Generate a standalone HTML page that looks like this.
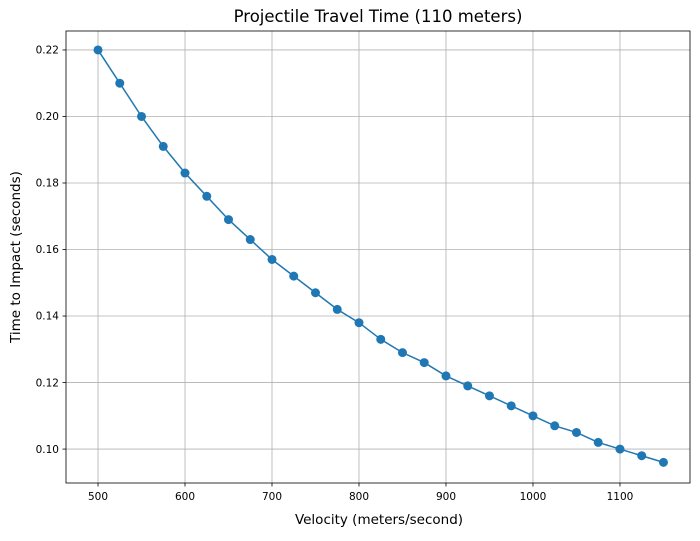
<!DOCTYPE html>
<html><head><meta charset="utf-8"><style>
body{margin:0;background:#fff;font-family:"Liberation Sans","DejaVu Sans",sans-serif;}
svg text{font-family:"DejaVu Sans","Liberation Sans",sans-serif;fill:#000;}
</style></head><body>
<svg id="chart" width="700" height="536" xmlns="http://www.w3.org/2000/svg">
<rect width="700" height="536" fill="#fff"/>
<g id="grid"></g>
<g id="axes"></g>
<g id="series"></g>
<text x="378" y="22" text-anchor="middle" font-size="16.5">Projectile Travel Time (110 meters)</text>
<text x="379" y="524" text-anchor="middle" font-size="13.5">Velocity (meters/second)</text>
<text transform="translate(20,257) rotate(-90)" text-anchor="middle" font-size="13.5">Time to Impact (seconds)</text>
</svg>
<script>
const velocities=[500,525,550,575,600,625,650,675,700,725,750,775,800,825,850,875,900,925,950,975,1000,1025,1050,1075,1100,1125,1150];
const times=[0.220,0.210,0.200,0.191,0.183,0.176,0.169,0.163,0.157,0.152,0.147,0.142,0.138,0.133,0.129,0.126,0.122,0.119,0.116,0.113,0.110,0.107,0.105,0.102,0.100,0.098,0.096];
const xTicks=[500,600,700,800,900,1000,1100];
const yTicks=[0.10,0.12,0.14,0.16,0.18,0.20,0.22];
const L=66,R=690,T=31,B=483;
const xMin=463.2,xMax=1180.5,yMin=0.0898,yMax=0.2257;
const sx=v=>L+(v-xMin)/(xMax-xMin)*(R-L);
const sy=v=>B-(v-yMin)/(yMax-yMin)*(B-T);
const NS="http://www.w3.org/2000/svg";
function mk(tag,attrs,parent){const e=document.createElementNS(NS,tag);for(const k in attrs)e.setAttribute(k,attrs[k]);parent.appendChild(e);return e;}
const grid=document.getElementById('grid'),axes=document.getElementById('axes'),series=document.getElementById('series');
xTicks.forEach(t=>{const x=sx(t);
 const g=mk('line',{x1:x,x2:x,y1:T,y2:B,stroke:'#b0b0b0','stroke-width':0.8},grid);
 
 
 const tk=mk('line',{x1:x,x2:x,y1:B,y2:B+3.5,stroke:'#000','stroke-width':0.8},axes);
 
 
 const tx=mk('text',{x:x,y:B+17,'text-anchor':'middle','font-size':10.5},axes);tx.textContent=t;
 
 
});
yTicks.forEach(t=>{const y=sy(t);
 const g=mk('line',{x1:L,x2:R,y1:y,y2:y,stroke:'#b0b0b0','stroke-width':0.8},grid);
 
 
 const tk=mk('line',{x1:L-3.5,x2:L,y1:y,y2:y,stroke:'#000','stroke-width':0.8},axes);
 
 
 const tx=mk('text',{x:L-7,y:y+3.7,'text-anchor':'end','font-size':10.5},axes);tx.textContent=t.toFixed(2);
 
 
});
const frame=mk('rect',{x:L,y:T,width:R-L,height:B-T,fill:'none',stroke:'#000','stroke-width':0.8},axes);


const pts=velocities.map((v,i)=>sx(v)+','+sy(times[i])).join(' ');
const pl=mk('polyline',{points:pts,fill:'none',stroke:'#1f77b4','stroke-width':1.5},series);


velocities.forEach((v,i)=>{
 const c=mk('circle',{cx:sx(v),cy:sy(times[i]),r:4.5,fill:'#1f77b4'},series);
 
 
});
</script>
</body></html>
